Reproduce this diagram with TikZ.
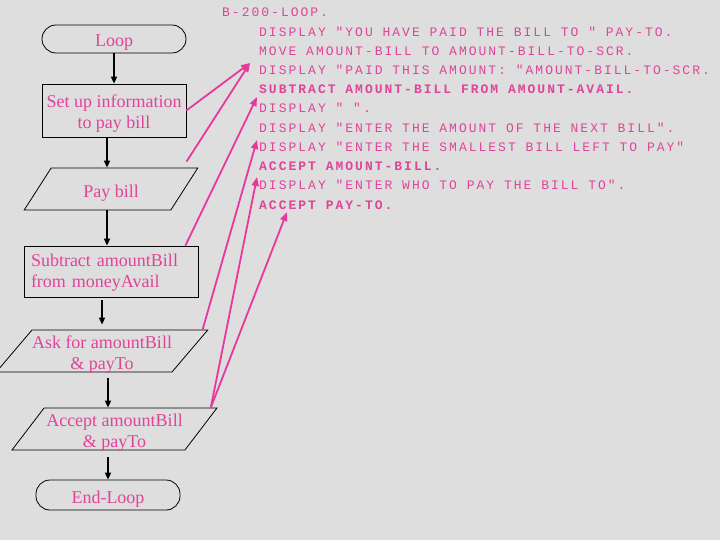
\documentclass[tikz,border=0pt]{standalone}
\usepackage{fontspec}
\setmainfont{Liberation Serif}
\newfontfamily\codefont[LetterSpace=15.4]{Liberation Mono}
\usepackage{tikz}
\usetikzlibrary{arrows.meta,calc,positioning,shapes.geometric}
\definecolor{paper}{HTML}{DEDEDE}
\definecolor{pinktext}{HTML}{E0449A}
\definecolor{pinkline}{HTML}{E8389C}
\newcommand{\upstrut}{\rule{0pt}{16pt}}

\begin{document}
\begin{tikzpicture}[x=1pt,y=-1pt,
    box/.style={draw,line width=0.8pt,inner sep=0pt,text=pinktext,align=center,
      text depth=0pt,font=\fontsize{18}{21}\selectfont},
    term/.style={box,rounded corners=14pt,minimum width=144pt},
    io/.style={box,trapezium,trapezium stretches=true,trapezium left angle=50,
      trapezium right angle=130,minimum height=42pt},
    flow/.style={line width=1.6pt,-{Triangle[length=7pt,width=6pt]}},
    link/.style={pinkline,line width=1.8pt,-{Triangle[length=9pt,width=7pt]}},
    code/.style={anchor=base west,inner sep=0pt,text=pinktext,
      font=\codefont\fontsize{13}{15}\selectfont}]
  \fill[paper] (0,0) rectangle (720,540);
  \useasboundingbox (0,0) rectangle (720,540);

  % flowchart
  \node[term,minimum height=28pt] (loop) at (114,39) {\upstrut Loop};
  \node[box,minimum width=144pt,minimum height=53pt] (setup) at (114,110.5) {\upstrut Set up information\\to pay bill};
  \node[io,minimum width=174pt,trapezium left angle=52,trapezium right angle=128] (paybill) at (111,189) {\upstrut Pay bill};
  \node[box,text width=160pt,inner xsep=7pt,align=left,text depth=25.5pt,minimum height=51pt] (subtract) at (111,271.5) {\upstrut Subtract amountBill\\from moneyAvail};
  \node[io,minimum width=204pt,trapezium left angle=46,trapezium right angle=134] (ask) at (102,351) {\upstrut Ask for amountBill\\\& payTo};
  \node[io,minimum width=205pt] (accept) at (114.5,429) {\upstrut Accept amountBill\\\& payTo};
  \node[term,minimum height=30pt] (endloop) at (108,495) {\upstrut End-Loop};

  \draw[flow] (loop) -- (setup);
  \draw[flow] ([xshift=-7pt]setup.south) -- ([xshift=-7pt]setup.south |- paybill.north);
  \draw[flow] ([xshift=-4pt]paybill.south) -- ([xshift=-4pt]paybill.south |- subtract.north);
  \draw[flow,shorten >=5pt] ([yshift=-3pt]subtract.south -| ask.north) -- (ask.north);
  \draw[flow] ([yshift=-6pt,xshift=6pt]ask.south) -- ([xshift=6pt]ask.south |- accept.north);
  \draw[flow] ([yshift=-7pt]accept.south -| endloop.north) -- (endloop.north);

  % COBOL lines
  \node[code] (bloop) at (222,17) {B-200-LOOP.};
  \foreach \y/\n/\t in {37/dpay/{DISPLAY "YOU HAVE PAID THE BILL TO " PAY-TO.},
      56/move/{MOVE AMOUNT-BILL TO AMOUNT-BILL-TO-SCR.},
      75/damt/{DISPLAY "PAID THIS AMOUNT: "AMOUNT-BILL-TO-SCR.},
      94/subtr/{\bfseries SUBTRACT AMOUNT-BILL FROM AMOUNT-AVAIL.},
      113/dblank/{DISPLAY " ".},
      133/dnext/{DISPLAY "ENTER THE AMOUNT OF THE NEXT BILL".},
      152/dsmall/{DISPLAY "ENTER THE SMALLEST BILL LEFT TO PAY"},
      171/acamt/{\bfseries ACCEPT AMOUNT-BILL.},
      190/dwho/{DISPLAY "ENTER WHO TO PAY THE BILL TO".},
      210/acpay/{\bfseries ACCEPT PAY-TO.}}
    {\node[code] (\n) at (259,\y) {\t};}

  % links from boxes to code
  \coordinate (t1) at (250,63);
  \coordinate (t2) at (257,97);
  \coordinate (t3) at (257,140);
  \coordinate (t4) at (257,177);
  \coordinate (t5) at (287,212);
  \draw[link] (setup.east) -- (t1);
  \draw[link] ($(paybill.top right corner)+(-12,-6)$) -- (t1);
  \draw[link] ($(subtract.north east)+(-13,0)$) -- (t2);
  \draw[link] ($(ask.top right corner)+(-6,0)$) -- (t3);
  \draw[link] ($(accept.top right corner)+(-7,0)$) -- (t4);
  \draw[link] ($(accept.top right corner)+(-7,0)$) -- (t5);
\end{tikzpicture}
\end{document}
